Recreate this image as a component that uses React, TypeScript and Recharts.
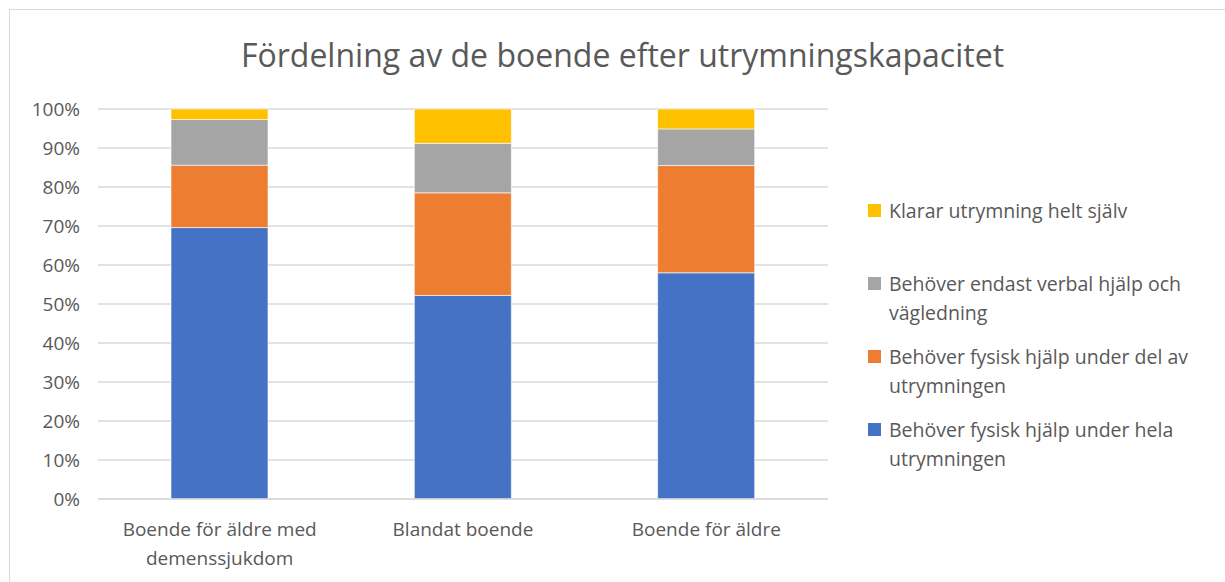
import React from 'react'
import { BarChart, Bar, CartesianGrid, XAxis, YAxis } from 'recharts'

const categories = ['Boende för äldre med demenssjukdom', 'Blandat boende', 'Boende för äldre']
const helaHjalp = [69.6, 52.2, 58.0]
const delHjalp = [16.0, 26.3, 27.5]
const verbalHjalp = [11.7, 12.7, 9.4]
const sjalv = [2.7, 8.8, 5.1]
const yTicks = [0, 10, 20, 30, 40, 50, 60, 70, 80, 90, 100]

const series = [
  { key: 'hela', name: 'Behöver fysisk hjälp under hela utrymningen', color: '#4472C4' },
  { key: 'del', name: 'Behöver fysisk hjälp under del av utrymningen', color: '#ED7D31' },
  { key: 'verbal', name: 'Behöver endast verbal hjälp och vägledning', color: '#A5A5A5' },
  { key: 'sjalv', name: 'Klarar utrymning helt själv', color: '#FFC000' },
]

const data = categories.map((c, i) => ({
  name: c,
  hela: helaHjalp[i],
  del: delHjalp[i],
  verbal: verbalHjalp[i],
  sjalv: sjalv[i],
}))

const font = '"Open Sans", sans-serif'
const textColor = '#595959'

// wrap label into lines of at most n chars
const wrap = (s: string, n: number) => {
  const words = s.split(' ')
  const lines: string[] = []
  let cur = ''
  words.forEach(w => {
    if (cur && (cur + ' ' + w).length > n) {
      lines.push(cur)
      cur = w
    } else {
      cur = cur ? cur + ' ' + w : w
    }
  })
  if (cur) lines.push(cur)
  return lines
}

const XTick = (props: any) => {
  const { x, y, payload } = props
  const lines = wrap(payload.value, 20)
  return (
    <g transform={`translate(${x},${y})`}>
      {lines.map((l, i) => (
        <text key={i} x={0} y={i * 29} dy={37} textAnchor="middle" fill={textColor} fontSize={19} fontFamily={font}>
          {l}
        </text>
      ))}
    </g>
  )
}

const LegendBox = () => {
  const items = [...series].reverse()
  return (
    <div
      style={{
        position: 'absolute',
        left: 868,
        top: 196,
        width: 345,
        fontFamily: font,
        fontSize: 19.5,
        color: textColor,
        lineHeight: '29px',
      }}
    >
      {items.map((s, i) => (
        <div key={s.key} style={{ display: 'flex', alignItems: 'flex-start', marginBottom: i === 0 ? 44 : 15 }}>
          <div style={{ width: 13, height: 13, background: s.color, marginTop: 8, marginRight: 8, flexShrink: 0 }} />
          <div>{s.name}</div>
        </div>
      ))}
    </div>
  )
}

export default function App() {
  return (
    <div style={{ position: 'absolute', left: 0, top: 0, width: 1225, height: 582, background: '#fff', overflow: 'hidden' }}>
      <div style={{ position: 'absolute', left: 9, top: 9, width: 1240, height: 600, border: '1px solid #d9d9d9' }} />
      <div
        style={{
          position: 'absolute',
          left: 0,
          top: 33,
          width: 1245,
          textAlign: 'center',
          fontFamily: font,
          fontSize: 32,
          color: textColor,
        }}
      >
        Fördelning av de boende efter utrymningskapacitet
      </div>
      <BarChart
        width={1225}
        height={582}
        data={data}
        margin={{ top: 109, right: 397, bottom: 0, left: 20 }}
        barCategoryGap="30%"
        style={{ position: 'absolute', left: 0, top: 0 }}
      >
        <CartesianGrid vertical={false} stroke="#d9d9d9" strokeWidth={1.5} />
        <XAxis
          dataKey="name"
          axisLine={{ stroke: '#d9d9d9', strokeWidth: 1.5 }}
          tickLine={false}
          tickSize={0}
          tickMargin={0}
          tick={<XTick />}
          interval={0}
          height={83}
        />
        <YAxis
          domain={[0, 100]}
          ticks={yTicks}
          tickFormatter={(v: number) => `${v}%`}
          axisLine={false}
          tickLine={false}
          tickSize={0}
          tickMargin={18}
          width={78}
          tick={{ fill: textColor, fontSize: 19, fontFamily: font }}
        />
        {series.map(s => (
          <Bar key={s.key} dataKey={s.key} name={s.name} stackId="a" fill={s.color} stroke="#fff" strokeWidth={0.6} isAnimationActive={false} />
        ))}
      </BarChart>
      <LegendBox />
    </div>
  )
}
